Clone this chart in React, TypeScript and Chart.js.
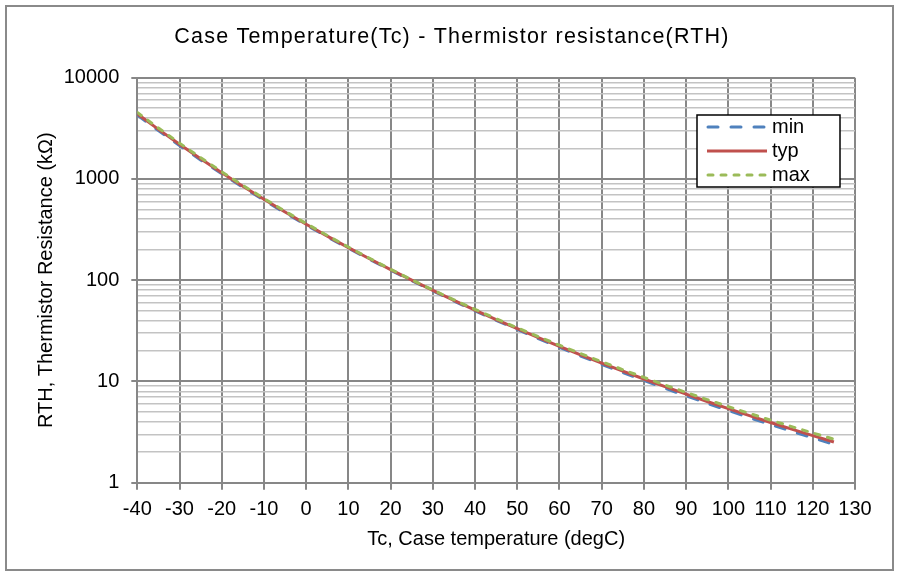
import React, { useEffect, useRef } from "react";
import { Chart, registerables } from "chart.js";

Chart.register(...registerables);

const TITLE = "Case Temperature(Tc) - Thermistor resistance(RTH)";
const X_TITLE = "Tc, Case temperature (degC)";
const Y_TITLE = "RTH, Thermistor Resistance (k\u03A9)";

const temps = [-40, -35, -30, -25, -20, -15, -10, -5, 0, 5, 10, 15, 20, 25, 30, 35, 40, 45, 50, 55, 60, 65, 70, 75, 80, 85, 90, 95, 100, 105, 110, 115, 120, 125];

const typValues = [4397, 3089, 2197, 1582, 1151, 846.6, 629.0, 471.6, 357.0, 272.5, 209.7, 162.7, 127.1, 100.0, 79.22, 63.17, 50.68, 40.90, 33.20, 27.09, 22.22, 18.32, 15.18, 12.64, 10.57, 8.873, 7.481, 6.337, 5.384, 4.594, 3.934, 3.380, 2.916, 2.522];

const minValues = [4265, 3000, 2137, 1542, 1124, 828.0, 616.0, 462.6, 350.7, 268.1, 206.7, 160.6, 125.7, 99.0, 78.3, 62.3, 49.9, 40.2, 32.6, 26.5, 21.7, 17.85, 14.76, 12.26, 10.23, 8.57, 7.21, 6.09, 5.16, 4.39, 3.75, 3.22, 2.77, 2.39];

const maxValues = [4535, 3180, 2258, 1622, 1178, 864.5, 641.0, 480.0, 362.8, 276.5, 212.5, 164.6, 128.4, 101.0, 80.1, 64.0, 51.5, 41.6, 33.9, 27.7, 22.8, 18.85, 15.66, 13.07, 10.96, 9.22, 7.79, 6.62, 5.64, 4.83, 4.15, 3.58, 3.10, 2.69];

const seriesNames = ["min", "typ", "max"];
const seriesColors = ["#4F81BD", "#C0504D", "#9BBB59"];
const seriesDashes: number[][] = [[10, 13], [], [5, 8]];

const yDecades = [1, 10, 100, 1000];
const yMultipliers = [1, 2, 3, 4, 5, 6, 7, 8, 9];
const yTopTick = 10000;

const FONT = '"Liberation Sans", Arial, Helvetica, sans-serif';
const MAJOR_GRID = "#878787";
const MINOR_GRID = "#c3c3c3";

export default function App() {
  const canvasRef = useRef<HTMLCanvasElement | null>(null);

  useEffect(() => {
    const canvas = canvasRef.current;
    if (!canvas) return;
    Chart.defaults.font.family = FONT;
    Chart.defaults.color = "#000";

    const seriesValues = [minValues, typValues, maxValues];
    const datasets = seriesValues.map((vals, i) => ({
      label: seriesNames[i],
      data: temps.map((t, j) => ({ x: t, y: vals[j] })),
      borderColor: seriesColors[i],
      backgroundColor: seriesColors[i],
      borderWidth: 3,
      borderDash: seriesDashes[i],
      borderCapStyle: seriesDashes[i].length ? "round" : "butt",
      pointRadius: 0,
      tension: 0,
      order: 2 - i,
      fill: false,
    }));

    const titlePlugin = {
      id: "customTitle",
      afterDraw(chart: any) {
        const ctx = chart.ctx;
        ctx.save();
        ctx.font = `21.5px ${FONT}`;
        ctx.fillStyle = "#000";
        ctx.textAlign = "center";
        ctx.textBaseline = "alphabetic";
        (ctx as any).letterSpacing = "1.2px";
        ctx.fillText(TITLE, 452, 43);
        ctx.restore();
      },
    };

    const legendPlugin = {
      id: "customLegend",
      afterDraw(chart: any) {
        const ctx = chart.ctx;
        ctx.save();
        const bx = 697, by = 115, bw = 143, bh = 72;
        ctx.fillStyle = "#fff";
        ctx.fillRect(bx, by, bw, bh);
        ctx.strokeStyle = "#000";
        ctx.lineWidth = 1.5;
        ctx.strokeRect(bx, by, bw, bh);
        seriesNames.forEach((name, i) => {
          const y = 127 + 24 * i;
          ctx.beginPath();
          ctx.strokeStyle = seriesColors[i];
          ctx.lineWidth = 3;
          ctx.setLineDash(seriesDashes[i]);
          ctx.lineCap = seriesDashes[i].length ? "round" : "butt";
          ctx.moveTo(seriesDashes[i].length ? 708 : 707, y);
          ctx.lineTo(seriesDashes[i].length ? 765 : 767, y);
          ctx.stroke();
          ctx.setLineDash([]);
          ctx.fillStyle = "#000";
          ctx.font = `20px ${FONT}`;
          ctx.textAlign = "left";
          ctx.textBaseline = "middle";
          ctx.fillText(name, 772, y);
        });
        ctx.restore();
      },
    };

    const chart = new Chart(canvas, {
      type: "line",
      data: { datasets: datasets as any },
      plugins: [titlePlugin, legendPlugin],
      options: {
        animation: false,
        responsive: false,
        events: [],
        layout: { padding: { left: 0, top: 77.7, right: 43, bottom: 0 } },
        plugins: {
          legend: { display: false },
          title: { display: false },
          tooltip: { enabled: false },
        },
        scales: {
          x: {
            type: "linear",
            min: -40,
            max: 130,
            afterFit: (scale: any) => {
              scale.height = 92.3;
            },
            ticks: {
              stepSize: 10,
              font: { size: 20 },
              color: "#000",
              padding: 8,
              maxRotation: 0,
              autoSkip: false,
            },
            grid: {
              color: MAJOR_GRID,
              lineWidth: 2,
              tickLength: 7,
              tickColor: MAJOR_GRID,
            },
            border: { display: true, color: MAJOR_GRID, width: 2 },
            title: {
              display: true,
              text: X_TITLE,
              font: { size: 20 },
              color: "#000",
              padding: { top: 0, bottom: 24 },
            },
          },
          y: {
            type: "logarithmic",
            min: 1,
            max: 10000,
            afterFit: (scale: any) => {
              scale.width = 137.3;
            },
            afterBuildTicks: (scale: any) => {
              const ticks: any[] = [];
              yDecades.forEach((d) => {
                yMultipliers.forEach((m) => {
                  ticks.push({ value: d * m, major: m === 1 });
                });
              });
              ticks.push({ value: yTopTick, major: true });
              scale.ticks = ticks;
            },
            ticks: {
              font: { size: 20 },
              color: "#000",
              padding: 12,
              autoSkip: false,
              callback: function (value: any) {
                const v = Number(value);
                const lg = Math.log10(v);
                return Math.abs(lg - Math.round(lg)) < 1e-9 ? String(v) : "";
              },
            },
            grid: {
              color: (ctx: any) => (ctx.tick && ctx.tick.major ? MAJOR_GRID : MINOR_GRID),
              lineWidth: (ctx: any) => (ctx.tick && ctx.tick.major ? 2 : 1.5),
              tickLength: 6,
              tickColor: (ctx: any) => (ctx.tick && ctx.tick.major ? MAJOR_GRID : "rgba(0,0,0,0)"),
            },
            border: { display: true, color: MAJOR_GRID, width: 2 },
            title: {
              display: true,
              text: Y_TITLE,
              font: { size: 20 },
              color: "#000",
              padding: { top: 34, bottom: 0 },
            },
          },
        },
      },
    });
    return () => chart.destroy();
  }, []);

  return (
    <div style={{ position: "absolute", left: 0, top: 0, width: 898, height: 575, background: "#fff" }}>
      <canvas ref={canvasRef} width={898} height={575} style={{ position: "absolute", left: 0, top: 0 }} />
      <div
        style={{
          position: "absolute",
          left: 4.5,
          top: 4.5,
          width: 889,
          height: 566,
          border: "2px solid #8a8a8a",
          boxSizing: "border-box",
          pointerEvents: "none",
        }}
      />
    </div>
  );
}
